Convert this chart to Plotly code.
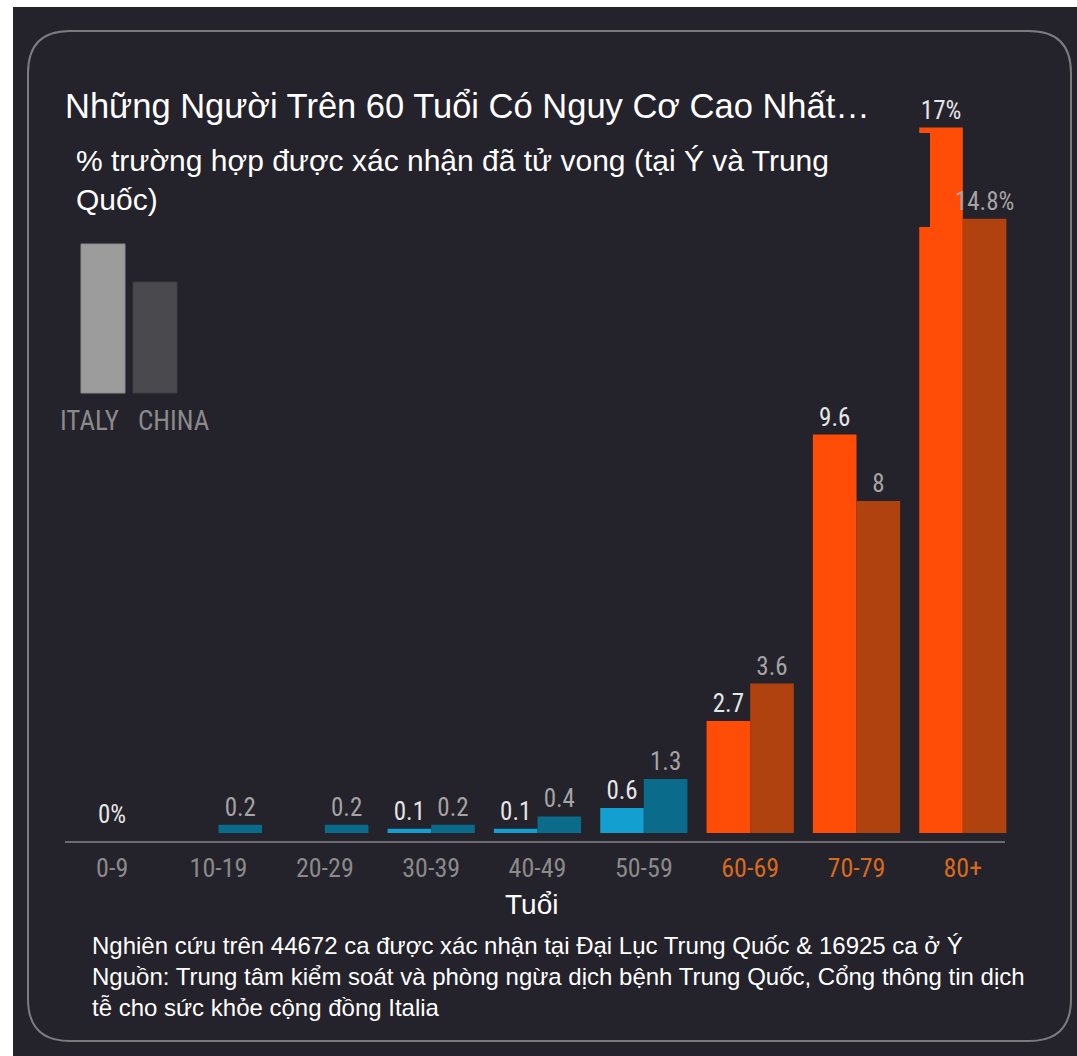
import plotly.graph_objects as go

# ---------------- data ----------------
age_groups = ["0-9", "10-19", "20-29", "30-39", "40-49", "50-59", "60-69", "70-79", "80+"]
italy_values = [0, 0, 0, 0.1, 0.1, 0.6, 2.7, 9.6, 17]
china_values = [0, 0.2, 0.2, 0.2, 0.4, 1.3, 3.6, 8, 14.8]
italy_labels = ["", "", "", "0.1", "0.1", "0.6", "2.7", "9.6", "17%"]
china_labels = ["", "0.2", "0.2", "0.2", "0.4", "1.3", "3.6", "8", "14.8%"]
zero_label = "0%"

title_text = "Những Người Trên 60 Tuổi Có Nguy Cơ Cao Nhất…"
subtitle_text = "% trường hợp được xác nhận đã tử vong (tại Ý và Trung<br>Quốc)"
xaxis_title = "Tuổi"
footnote_text = ("Nghiên cứu trên 44672 ca được xác nhận tại Đại Lục Trung Quốc & 16925 ca ở Ý<br>"
                 "Nguồn: Trung tâm kiểm soát và phòng ngừa dịch bệnh Trung Quốc, Cổng thông tin dịch<br>"
                 "tễ cho sức khỏe cộng đồng Italia")
legend_names = ["ITALY", "CHINA"]

# ---------------- styles ----------------
BG = "#24222a"
W, H = 1077, 1056
L, R, T, B = 59, 61, 100, 206
PW, PH = W - L - R, H - T - B

def px(x):
    return (x - L) / PW

def py(y):
    return (H - B - y) / PH

high_risk = [g in ("60-69", "70-79", "80+") for g in age_groups]
italy_colors = ["#ff4d08" if h else "#139fcf" for h in high_risk]
china_colors = ["#b0420f" if h else "#0a6b8a" for h in high_risk]
tick_colors = ["#d86a1e" if h else "#8a8a8a" for h in high_risk]
ticktext = [f"<span style='color:{c}'>{t}</span>" for t, c in zip(age_groups, tick_colors)]

COND = "Liberation Sans Narrow, Roboto Condensed, DejaVu Sans Condensed, Arial Narrow, sans-serif"
SANS = "Liberation Sans, Arial, Helvetica, sans-serif"

fig = go.Figure()
fig.add_trace(go.Bar(
    x=age_groups, y=italy_values, name=legend_names[0],
    marker=dict(color=italy_colors, line=dict(width=0)),
    text=italy_labels, textposition="outside", constraintext="none",
    textfont=dict(family=COND, size=25, color="#e6e6e6"),
    cliponaxis=False,
))
fig.add_trace(go.Bar(
    x=age_groups, y=china_values, name=legend_names[1],
    marker=dict(color=china_colors, line=dict(width=0)),
    text=china_labels, textposition="outside", constraintext="none",
    textfont=dict(family=COND, size=25, color="#a4a4a4"),
    cliponaxis=False,
))

shapes = []
# screenshot white edges
shapes.append(dict(type="rect", xref="paper", yref="paper", x0=px(0), x1=px(W), y0=py(7), y1=py(0),
                   fillcolor="white", line=dict(width=0), layer="below"))
shapes.append(dict(type="rect", xref="paper", yref="paper", x0=px(0), x1=px(13), y0=py(H), y1=py(0),
                   fillcolor="white", line=dict(width=0), layer="below"))
# rounded frame
x0, y0, x1, y1, r = 28, 31, 1071, 1041, 42
rx, ry = r / PW, r / PH
X0, X1, Y0, Y1 = px(x0), px(x1), py(y0), py(y1)
path = (f"M {X0+rx},{Y0} L {X1-rx},{Y0} Q {X1},{Y0} {X1},{Y0-ry} "
        f"L {X1},{Y1+ry} Q {X1},{Y1} {X1-rx},{Y1} "
        f"L {X0+rx},{Y1} Q {X0},{Y1} {X0},{Y1+ry} "
        f"L {X0},{Y0-ry} Q {X0},{Y0} {X0+rx},{Y0} Z")
shapes.append(dict(type="path", xref="paper", yref="paper", path=path,
                   line=dict(color="#7c7b80", width=2), layer="below"))
# baseline
shapes.append(dict(type="line", xref="paper", yref="paper", x0=px(65), x1=px(1005), y0=py(842), y1=py(842),
                   line=dict(color="#6c6b70", width=2), layer="above"))
# subtitle box (dark) overlapping the tallest bar
shapes.append(dict(type="rect", xref="paper", yref="paper", x0=px(600), x1=px(930), y0=py(227), y1=py(133),
                   fillcolor=BG, line=dict(width=0), layer="above"))
# legend key bars
shapes.append(dict(type="rect", xref="paper", yref="paper", x0=px(81), x1=px(125), y0=py(393), y1=py(244),
                   fillcolor="#9c9c9c", line=dict(color="#8a8a8a", width=1), layer="above"))
shapes.append(dict(type="rect", xref="paper", yref="paper", x0=px(133), x1=px(177), y0=py(393), y1=py(282),
                   fillcolor="#4a494e", line=dict(color="#3e3d42", width=1), layer="above"))

annotations = [
    dict(text=title_text, xref="paper", yref="paper", x=px(63), y=py(106), xanchor="left", yanchor="middle",
         showarrow=False, font=dict(family=SANS, size=34.5, color="white")),
    dict(text=subtitle_text, xref="paper", yref="paper", x=px(74), y=py(142), xanchor="left", yanchor="top",
         showarrow=False, align="left", font=dict(family=SANS, size=30, color="white")),
    dict(text=xaxis_title, xref="paper", yref="paper", x=px(531), y=py(905), xanchor="center", yanchor="middle",
         showarrow=False, font=dict(family=SANS, size=28, color="white")),
    dict(text=footnote_text, xref="paper", yref="paper", x=px(90), y=py(930), xanchor="left", yanchor="top",
         showarrow=False, align="left", font=dict(family=SANS, size=24, color="white")),
    dict(text=legend_names[0], xref="paper", yref="paper", x=px(89), y=py(421), xanchor="center", yanchor="middle",
         showarrow=False, font=dict(family=COND, size=27, color="#8a8a8a")),
    dict(text=legend_names[1], xref="paper", yref="paper", x=px(174), y=py(421), xanchor="center", yanchor="middle",
         showarrow=False, font=dict(family=COND, size=27, color="#8a8a8a")),
    dict(text=zero_label, x=age_groups[0], y=italy_values[0], xref="x", yref="y", xanchor="center", yanchor="bottom",
         yshift=2, showarrow=False, font=dict(family=COND, size=25, color="#e6e6e6")),
]

fig.update_layout(
    width=W, height=H,
    margin=dict(l=L, r=R, t=T, b=B, pad=0),
    paper_bgcolor=BG, plot_bgcolor=BG,
    barmode="group", bargap=0.18, bargroupgap=0,
    showlegend=False,
    shapes=shapes, annotations=annotations,
    xaxis=dict(type="category", tickvals=age_groups, ticktext=ticktext, showgrid=False, zeroline=False,
               showline=False, ticks="", range=[-0.5, 8.5],
               tickfont=dict(family=COND, size=26, color="#8a8a8a")),
    yaxis=dict(visible=False, range=[-(850 - 833) / 41.5, (833 - 100) / 41.5], showgrid=False, zeroline=False),
)

fig.write_html("out.html", config={"displayModeBar": False},
               post_script="document.body.style.margin='0';document.body.style.padding='0';")
